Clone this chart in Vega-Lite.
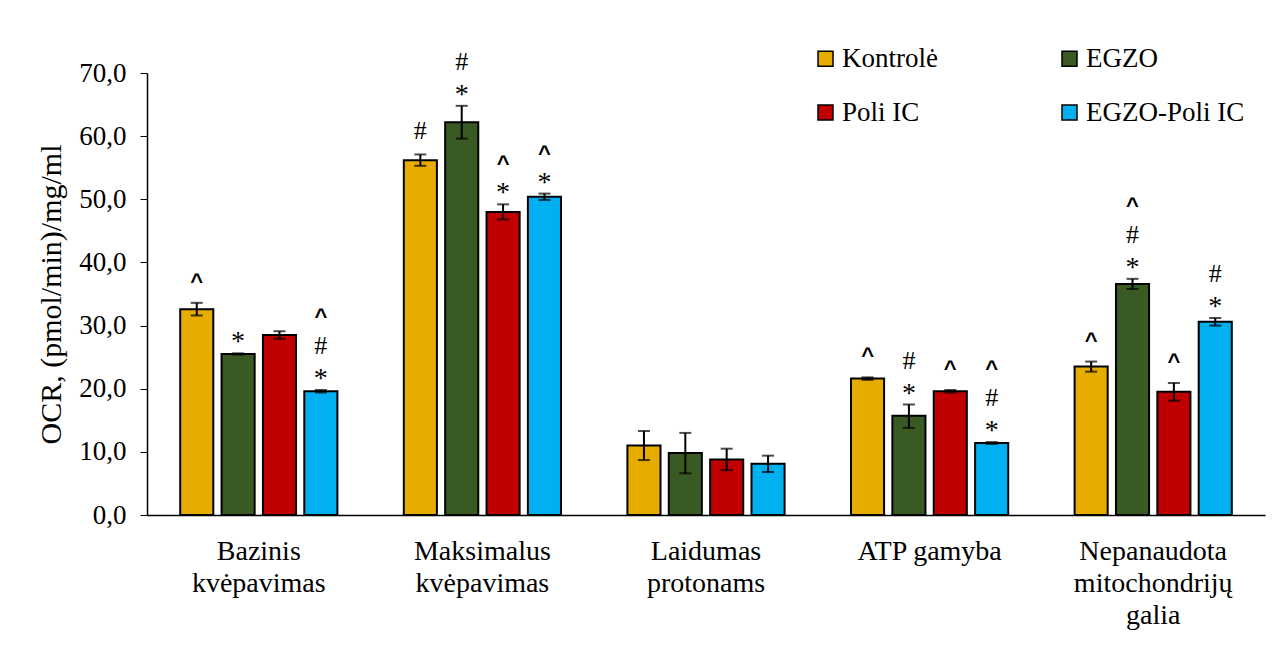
{
  "$schema": "https://vega.github.io/schema/vega-lite/v6.json",
  "width": 1118,
  "height": 442,
  "autosize": {"type": "none"},
  "padding": {"left": 147, "top": 73, "right": 18, "bottom": 133},
  "background": "white",
  "config": {
    "view": {"stroke": null},
    "font": "Liberation Serif",
    "axis": {"grid": false, "domainColor": "black", "tickColor": "black", "labelColor": "black", "titleColor": "black", "labelFont": "Liberation Serif", "titleFont": "Liberation Serif"},
    "legend": {"labelFont": "Liberation Serif"}
  },
  "data": {
    "values": [
      {"cat": "Bazinis|kvėpavimas", "group": "Kontrolė", "v": 32.6, "lo": 31.6, "hi": 33.6, "star": "", "hash1": "", "hash2": "", "car1": "^", "car2": "", "car3": ""},
      {"cat": "Bazinis|kvėpavimas", "group": "EGZO", "v": 25.5, "lo": 25.4, "hi": 25.6, "star": "*", "hash1": "", "hash2": "", "car1": "", "car2": "", "car3": ""},
      {"cat": "Bazinis|kvėpavimas", "group": "Poli IC", "v": 28.5, "lo": 27.9, "hi": 29.1, "star": "", "hash1": "", "hash2": "", "car1": "", "car2": "", "car3": ""},
      {"cat": "Bazinis|kvėpavimas", "group": "EGZO-Poli IC", "v": 19.6, "lo": 19.4, "hi": 19.8, "star": "*", "hash1": "", "hash2": "#", "car1": "", "car2": "", "car3": "^"},
      {"cat": "Maksimalus|kvėpavimas", "group": "Kontrolė", "v": 56.2, "lo": 55.3, "hi": 57.1, "star": "", "hash1": "#", "hash2": "", "car1": "", "car2": "", "car3": ""},
      {"cat": "Maksimalus|kvėpavimas", "group": "EGZO", "v": 62.2, "lo": 59.6, "hi": 64.8, "star": "*", "hash1": "", "hash2": "#", "car1": "", "car2": "", "car3": ""},
      {"cat": "Maksimalus|kvėpavimas", "group": "Poli IC", "v": 48.0, "lo": 46.8, "hi": 49.2, "star": "*", "hash1": "", "hash2": "", "car1": "", "car2": "^", "car3": ""},
      {"cat": "Maksimalus|kvėpavimas", "group": "EGZO-Poli IC", "v": 50.4, "lo": 49.9, "hi": 50.9, "star": "*", "hash1": "", "hash2": "", "car1": "", "car2": "^", "car3": ""},
      {"cat": "Laidumas|protonams", "group": "Kontrolė", "v": 11.0, "lo": 8.7, "hi": 13.3, "star": "", "hash1": "", "hash2": "", "car1": "", "car2": "", "car3": ""},
      {"cat": "Laidumas|protonams", "group": "EGZO", "v": 9.8, "lo": 6.6, "hi": 13.0, "star": "", "hash1": "", "hash2": "", "car1": "", "car2": "", "car3": ""},
      {"cat": "Laidumas|protonams", "group": "Poli IC", "v": 8.8, "lo": 7.1, "hi": 10.5, "star": "", "hash1": "", "hash2": "", "car1": "", "car2": "", "car3": ""},
      {"cat": "Laidumas|protonams", "group": "EGZO-Poli IC", "v": 8.1, "lo": 6.8, "hi": 9.4, "star": "", "hash1": "", "hash2": "", "car1": "", "car2": "", "car3": ""},
      {"cat": "ATP gamyba", "group": "Kontrolė", "v": 21.6, "lo": 21.4, "hi": 21.8, "star": "", "hash1": "", "hash2": "", "car1": "^", "car2": "", "car3": ""},
      {"cat": "ATP gamyba", "group": "EGZO", "v": 15.7, "lo": 13.8, "hi": 17.5, "star": "*", "hash1": "", "hash2": "#", "car1": "", "car2": "", "car3": ""},
      {"cat": "ATP gamyba", "group": "Poli IC", "v": 19.6, "lo": 19.4, "hi": 19.8, "star": "", "hash1": "", "hash2": "", "car1": "^", "car2": "", "car3": ""},
      {"cat": "ATP gamyba", "group": "EGZO-Poli IC", "v": 11.4, "lo": 11.25, "hi": 11.55, "star": "*", "hash1": "", "hash2": "#", "car1": "", "car2": "", "car3": "^"},
      {"cat": "Nepanaudota|mitochondrijų|galia", "group": "Kontrolė", "v": 23.5, "lo": 22.7, "hi": 24.3, "star": "", "hash1": "", "hash2": "", "car1": "^", "car2": "", "car3": ""},
      {"cat": "Nepanaudota|mitochondrijų|galia", "group": "EGZO", "v": 36.6, "lo": 35.8, "hi": 37.4, "star": "*", "hash1": "", "hash2": "#", "car1": "", "car2": "", "car3": "^"},
      {"cat": "Nepanaudota|mitochondrijų|galia", "group": "Poli IC", "v": 19.5, "lo": 18.1, "hi": 20.9, "star": "", "hash1": "", "hash2": "", "car1": "^", "car2": "", "car3": ""},
      {"cat": "Nepanaudota|mitochondrijų|galia", "group": "EGZO-Poli IC", "v": 30.6, "lo": 30.0, "hi": 31.2, "star": "*", "hash1": "", "hash2": "#", "car1": "", "car2": "", "car3": ""}
    ]
  },
  "encoding": {
    "x": {
      "field": "cat", "type": "nominal", "sort": null,
      "scale": {"paddingInner": 0.26, "paddingOuter": 0.13},
      "axis": {"title": null, "ticks": false, "tickSize": 0, "labelAngle": 0, "labelPadding": 22, "labelFontSize": 28, "labelLineHeight": 32, "labelExpr": "split(datum.label, '|')", "domainWidth": 1.5}
    },
    "xOffset": {
      "field": "group", "type": "nominal", "sort": null,
      "scale": {"domain": ["Kontrolė", "EGZO", "Poli IC", "EGZO-Poli IC"], "paddingInner": 0.2, "paddingOuter": 0.1}
    }
  },
  "layer": [
    {
      "mark": {"type": "bar", "stroke": "black", "strokeWidth": 2},
      "encoding": {
        "y": {
          "field": "v", "type": "quantitative",
          "scale": {"domain": [0, 70], "nice": false},
          "axis": {"values": [0, 10, 20, 30, 40, 50, 60, 70], "title": "OCR, (pmol/min)/mg/ml", "titleFontSize": 30, "titleFontWeight": "normal", "titlePadding": 12, "labelFontSize": 27, "tickSize": 7, "labelPadding": 14, "domainWidth": 1.5, "labelExpr": "replace(format(datum.value, '.1f'), '.', ',')"}
        },
        "fill": {
          "field": "group", "type": "nominal", "sort": null,
          "scale": {"domain": ["Kontrolė", "Poli IC", "EGZO", "EGZO-Poli IC"], "range": ["#E6AC00", "#C00000", "#3A5A24", "#00B0F0"]},
          "legend": {"title": null, "orient": "none", "legendX": 665, "legendY": -28, "columns": 2, "columnPadding": 118, "rowPadding": 26, "padding": 0, "symbolType": "square", "symbolSize": 225, "symbolStrokeColor": "black", "symbolStrokeWidth": 1.5, "symbolOpacity": 1, "labelFontSize": 27, "labelOffset": 3, "labelColor": "black", "labelLimit": 300}
        }
      }
    },
    {
      "mark": {"type": "rule", "color": "black", "strokeWidth": 2},
      "encoding": {"y": {"field": "lo", "type": "quantitative"}, "y2": {"field": "hi"}}
    },
    {
      "mark": {"type": "tick", "color": "black", "thickness": 2, "size": 12},
      "encoding": {"y": {"field": "hi", "type": "quantitative"}}
    },
    {
      "mark": {"type": "tick", "color": "black", "thickness": 2, "size": 12},
      "encoding": {"y": {"field": "lo", "type": "quantitative"}}
    },
    {
      "mark": {"type": "text", "baseline": "bottom", "align": "center", "fontSize": 28, "color": "black", "font": "Liberation Serif", "dy": 3},
      "encoding": {"y": {"field": "hi", "type": "quantitative"}, "text": {"field": "star", "type": "nominal"}}
    },
    {
      "mark": {"type": "text", "baseline": "bottom", "align": "center", "fontSize": 26, "color": "black", "font": "Liberation Serif", "dy": -10},
      "encoding": {"y": {"field": "hi", "type": "quantitative"}, "text": {"field": "hash1", "type": "nominal"}}
    },
    {
      "mark": {"type": "text", "baseline": "bottom", "align": "center", "fontSize": 26, "color": "black", "font": "Liberation Serif", "dy": -31},
      "encoding": {"y": {"field": "hi", "type": "quantitative"}, "text": {"field": "hash2", "type": "nominal"}}
    },
    {
      "mark": {"type": "text", "baseline": "bottom", "align": "center", "fontSize": 22, "fontWeight": "bold", "color": "black", "font": "Liberation Sans", "dy": -9},
      "encoding": {"y": {"field": "hi", "type": "quantitative"}, "text": {"field": "car1", "type": "nominal"}}
    },
    {
      "mark": {"type": "text", "baseline": "bottom", "align": "center", "fontSize": 22, "fontWeight": "bold", "color": "black", "font": "Liberation Sans", "dy": -28},
      "encoding": {"y": {"field": "hi", "type": "quantitative"}, "text": {"field": "car2", "type": "nominal"}}
    },
    {
      "mark": {"type": "text", "baseline": "bottom", "align": "center", "fontSize": 22, "fontWeight": "bold", "color": "black", "font": "Liberation Sans", "dy": -61},
      "encoding": {"y": {"field": "hi", "type": "quantitative"}, "text": {"field": "car3", "type": "nominal"}}
    }
  ]
}
